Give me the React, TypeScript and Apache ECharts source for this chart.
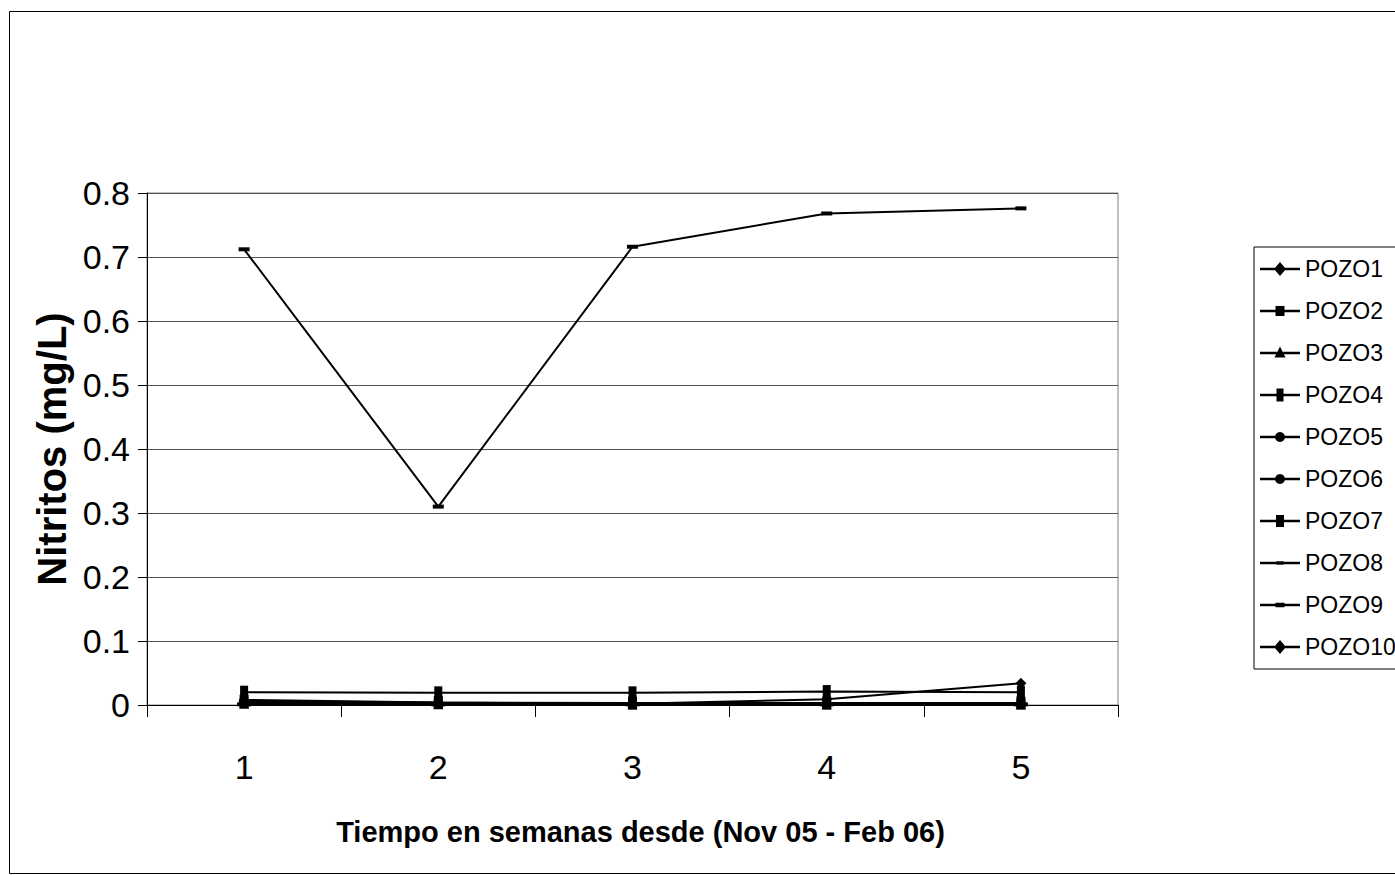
import React, { useEffect, useRef } from "react";
import * as echarts from "echarts";

const categories = ["1", "2", "3", "4", "5"];
const seriesNames = ["POZO1", "POZO2", "POZO3", "POZO4", "POZO5", "POZO6", "POZO7", "POZO8", "POZO9", "POZO10"];
const pozo1 = [0.005, 0.003, 0.002, 0.002, 0.002];
const pozo2 = [0.003, 0.002, 0.002, 0.002, 0.002];
const pozo3 = [0.002, 0.001, 0.001, 0.001, 0.001];
const pozo4 = [0.02, 0.019, 0.019, 0.021, 0.02];
const pozo5 = [0.004, 0.003, 0.002, 0.002, 0.002];
const pozo6 = [0.003, 0.002, 0.002, 0.002, 0.002];
const pozo7 = [0.006, 0.004, 0.003, 0.003, 0.003];
const pozo8 = [0.712, 0.31, 0.716, 0.768, 0.776];
const pozo9 = [0.001, 0.001, 0.001, 0.001, 0.001];
const pozo10 = [0.008, 0.004, 0.002, 0.009, 0.034];
const yTicks = [0, 0.1, 0.2, 0.3, 0.4, 0.5, 0.6, 0.7, 0.8];

const FONT = "'Liberation Sans', Arial, sans-serif";

// legend icons: a 40x16 box, 2.5px line, marker in the middle
const FRAME = "M0,0 L0.01,0 L0.01,0.01 Z M40,16 L39.99,16 L39.99,15.99 Z ";
const LINE = "M0,6.75 L40,6.75 L40,9.25 L0,9.25 Z ";
const legendIcons = [
  "path://" + FRAME + LINE + "M20,1 L26,8 L20,15 L14,8 Z",
  "path://" + FRAME + LINE + "M15.5,3 L24.5,3 L24.5,13 L15.5,13 Z",
  "path://" + FRAME + LINE + "M20,1.5 L25.5,12.5 L14.5,12.5 Z",
  "path://" + FRAME + LINE + "M16.5,1.5 L23.5,1.5 L23.5,14.5 L16.5,14.5 Z",
  "path://" + FRAME + LINE + "M20,3 A5,5 0 1,1 19.99,3 Z",
  "path://" + FRAME + LINE + "M20,3 A5,5 0 1,1 19.99,3 Z",
  "path://" + FRAME + LINE + "M16,2 L24,2 L24,14 L16,14 Z",
  "path://" + FRAME + LINE + "M16.5,6.25 L23.5,6.25 L23.5,9.75 L16.5,9.75 Z",
  "path://" + FRAME + LINE + "M15.5,5.75 L24.5,5.75 L24.5,10.25 L15.5,10.25 Z",
  "path://" + FRAME + LINE + "M20,1 L26,8 L20,15 L14,8 Z",
];

export default function App() {
  const ref = useRef<HTMLDivElement>(null);
  useEffect(() => {
    if (!ref.current) return;
    const chart = echarts.init(ref.current, null, { renderer: "svg" });
    const values = [pozo1, pozo2, pozo3, pozo4, pozo5, pozo6, pozo7, pozo8, pozo9, pozo10];
    const symbols: any[] = ["diamond", "rect", "triangle", "rect", "circle", "circle", "rect", "rect", "rect", "diamond"];
    const sizes: any[] = [11, 9, 10, [8, 13], 9, 9, [9, 13], [11, 4], [14, 4], 11];
    const series = seriesNames.map((name, i) => ({
      name,
      type: "line",
      data: values[i],
      symbol: symbols[i],
      symbolSize: sizes[i],
      showSymbol: true,
      lineStyle: { color: "#000", width: 2 },
      itemStyle: { color: "#000", borderWidth: 0 },
      z: i === 7 ? 3 : 2,
    }));
    chart.setOption({
      animation: false,
      backgroundColor: "#fff",
      textStyle: { fontFamily: FONT },
      graphic: [
        {
          type: "rect",
          shape: { x: 9.5, y: 11.5, width: 1400, height: 862 },
          style: { fill: "none", stroke: "#000", lineWidth: 1 },
          silent: true,
          z: -1,
        },
      ],
      grid: {
        left: 147,
        top: 193,
        width: 971,
        height: 512,
        show: true,
        borderColor: "#808080",
        borderWidth: 1,
        backgroundColor: "transparent",
      },
      legend: {
        orient: "vertical",
        left: 1254,
        top: 247,
        data: seriesNames.map((n, i) => ({ name: n, icon: legendIcons[i] })),
        itemWidth: 40,
        itemHeight: 16,
        itemGap: 18,
        padding: [10, 8, 10, 6],
        borderColor: "#000",
        borderWidth: 1,
        backgroundColor: "#fff",
        textStyle: { fontSize: 23, color: "#000", fontFamily: FONT, lineHeight: 24 },
      },
      xAxis: {
        type: "category",
        data: categories,
        boundaryGap: true,
        name: "Tiempo en semanas desde (Nov 05 - Feb 06)",
        nameLocation: "middle",
        nameGap: 112,
        nameTextStyle: {
          fontSize: 29,
          fontWeight: "bold",
          color: "#000",
          fontFamily: FONT,
          padding: [0, 0, 0, 16],
        },
        axisLine: { lineStyle: { color: "#000", width: 1 } },
        axisTick: { show: true, length: 12, lineStyle: { color: "#000" } },
        axisLabel: { fontSize: 34, color: "#000", margin: 45 },
        splitLine: { show: false },
      },
      yAxis: {
        type: "value",
        min: 0,
        max: 0.8,
        interval: 0.1,
        name: "Nitritos (mg/L)",
        nameLocation: "middle",
        nameGap: 56,
        nameTextStyle: { fontSize: 40, fontWeight: "bold", color: "#000", fontFamily: FONT },
        axisLine: { show: true, lineStyle: { color: "#000", width: 1 } },
        axisTick: { show: true, length: 9, lineStyle: { color: "#000" } },
        axisLabel: {
          fontSize: 34,
          color: "#000",
          margin: 17,
          formatter: (v: number) => {
            const t = yTicks.find((x) => Math.abs(x - v) < 1e-9);
            return t === undefined ? "" : t === 0 ? "0" : String(Math.round(t * 10) / 10);
          },
        },
        splitLine: { show: true, lineStyle: { color: "#555", width: 1 } },
      },
      series,
    });
    return () => chart.dispose();
  }, []);
  return (
    <div
      ref={ref}
      style={{ position: "absolute", left: 0, top: 0, width: 1395, height: 875 }}
    />
  );
}
